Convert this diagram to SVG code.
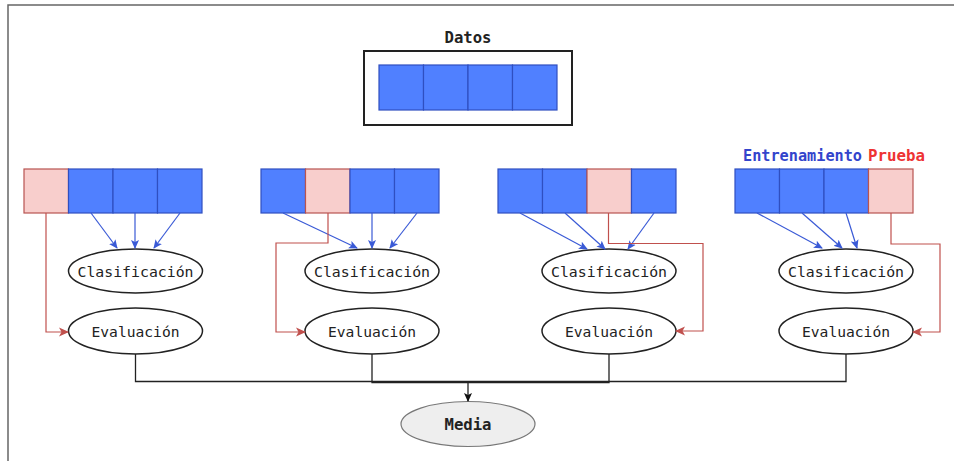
<svg xmlns="http://www.w3.org/2000/svg" width="955" height="461" viewBox="0 0 955 461">
<style>
.frame{fill:none;stroke:#666;stroke-width:1.5}
.cellB{fill:#5080ff;stroke:#2f4fc0;stroke-width:1.2}
.cellR{fill:#f8cecc;stroke:#b85450;stroke-width:1.2}
.node{fill:#fff;stroke:#222;stroke-width:1.5}
.media{fill:#eeeeee;stroke:#777;stroke-width:1.2}
.lbl{font-family:"DejaVu Sans Mono","Liberation Mono",monospace;font-size:14px;fill:#222;text-anchor:middle}
.bold{font-weight:bold;font-size:15px}
.eb{fill:none;stroke:#3a5ad6;stroke-width:1.2}
.er{fill:none;stroke:#c0504d;stroke-width:1.2}
.ek{fill:none;stroke:#222;stroke-width:1.3}
</style>
<defs>
<marker id="ab" markerWidth="9" markerHeight="9" refX="8" refY="4.5" orient="auto" markerUnits="userSpaceOnUse"><path d="M0,0.5 L9,4.5 L0,8.5 L2,4.5 Z" fill="#3a5ad6"/></marker>
<marker id="ar" markerWidth="10" markerHeight="10" refX="9" refY="5" orient="auto" markerUnits="userSpaceOnUse"><path d="M0,0.5 L10,5 L0,9.5 L2.5,5 Z" fill="#c0504d"/></marker>
<marker id="ak" markerWidth="9" markerHeight="9" refX="8" refY="4.5" orient="auto" markerUnits="userSpaceOnUse"><path d="M0,0.5 L9,4.5 L0,8.5 L2,4.5 Z" fill="#111"/></marker>
</defs>
<path class="frame" d="M8,461 L8,5 L954,5"/>

<g id="datos">
<text class="lbl bold" x="468" y="43" textLength="47" lengthAdjust="spacingAndGlyphs">Datos</text>
<rect x="364" y="51" width="208" height="74" fill="#fff" stroke="#222" stroke-width="2"/>
<rect class="cellB" x="379" y="65" width="44.5" height="45"/>
<rect class="cellB" x="423.5" y="65" width="44.5" height="45"/>
<rect class="cellB" x="468" y="65" width="44.5" height="45"/>
<rect class="cellB" x="512.5" y="65" width="44.5" height="45"/>
</g>

<g id="legend">
<text class="lbl bold" x="743" y="161" style="text-anchor:start;fill:#3344cc" textLength="119" lengthAdjust="spacingAndGlyphs">Entrenamiento</text>
<text class="lbl bold" x="868" y="161" style="text-anchor:start;fill:#ee3333" textLength="57" lengthAdjust="spacingAndGlyphs">Prueba</text>
</g>

<g id="fold1">
<rect class="cellR" x="24" y="169" width="44.5" height="44"/>
<rect class="cellB" x="68.5" y="169" width="44.5" height="44"/>
<rect class="cellB" x="113" y="169" width="44.5" height="44"/>
<rect class="cellB" x="157.5" y="169" width="44.5" height="44"/>
</g>
<g id="fold2">
<rect class="cellB" x="261" y="169" width="44.5" height="44"/>
<rect class="cellR" x="305.5" y="169" width="44.5" height="44"/>
<rect class="cellB" x="350" y="169" width="44.5" height="44"/>
<rect class="cellB" x="394.5" y="169" width="44.5" height="44"/>
</g>
<g id="fold3">
<rect class="cellB" x="498" y="169" width="44.5" height="44"/>
<rect class="cellB" x="542.5" y="169" width="44.5" height="44"/>
<rect class="cellR" x="587" y="169" width="44.5" height="44"/>
<rect class="cellB" x="631.5" y="169" width="44.5" height="44"/>
</g>
<g id="fold4">
<rect class="cellB" x="735" y="169" width="44.5" height="44"/>
<rect class="cellB" x="779.5" y="169" width="44.5" height="44"/>
<rect class="cellB" x="824" y="169" width="44.5" height="44"/>
<rect class="cellR" x="868.5" y="169" width="44.5" height="44"/>
</g>

<g id="clas1"><ellipse class="node" cx="135.5" cy="271" rx="67" ry="22"/><text class="lbl" x="135.5" y="276.5" textLength="116" lengthAdjust="spacingAndGlyphs">Clasificación</text></g>
<g id="clas2"><ellipse class="node" cx="372" cy="271" rx="67" ry="22"/><text class="lbl" x="372" y="276.5" textLength="116" lengthAdjust="spacingAndGlyphs">Clasificación</text></g>
<g id="clas3"><ellipse class="node" cx="609" cy="271" rx="67" ry="22"/><text class="lbl" x="609" y="276.5" textLength="116" lengthAdjust="spacingAndGlyphs">Clasificación</text></g>
<g id="clas4"><ellipse class="node" cx="846" cy="271" rx="67" ry="22"/><text class="lbl" x="846" y="276.5" textLength="116" lengthAdjust="spacingAndGlyphs">Clasificación</text></g>

<g id="eval1"><ellipse class="node" cx="135.5" cy="331" rx="67" ry="23"/><text class="lbl" x="135.5" y="336.5" textLength="88" lengthAdjust="spacingAndGlyphs">Evaluación</text></g>
<g id="eval2"><ellipse class="node" cx="372" cy="331" rx="67" ry="23"/><text class="lbl" x="372" y="336.5" textLength="88" lengthAdjust="spacingAndGlyphs">Evaluación</text></g>
<g id="eval3"><ellipse class="node" cx="609" cy="331" rx="67" ry="23"/><text class="lbl" x="609" y="336.5" textLength="88" lengthAdjust="spacingAndGlyphs">Evaluación</text></g>
<g id="eval4"><ellipse class="node" cx="846" cy="331" rx="67" ry="23"/><text class="lbl" x="846" y="336.5" textLength="88" lengthAdjust="spacingAndGlyphs">Evaluación</text></g>

<g id="media"><ellipse class="media" cx="468" cy="424" rx="67" ry="22.5"/><text class="lbl bold" x="468" y="429.5" textLength="47" lengthAdjust="spacingAndGlyphs">Media</text></g>

<g id="connectors">
<path class="eb" marker-end="url(#ab)" d="M91,213 L117,248"/>
<path class="eb" marker-end="url(#ab)" d="M135,213 L135,248"/>
<path class="eb" marker-end="url(#ab)" d="M180,213 L154,248"/>
<path class="er" marker-end="url(#ar)" d="M46,213 L46,332 L68,332"/>
<path class="eb" marker-end="url(#ab)" d="M283,213 L357,248"/>
<path class="eb" marker-end="url(#ab)" d="M372,213 L372,248"/>
<path class="eb" marker-end="url(#ab)" d="M417,213 L390,248"/>
<path class="er" marker-end="url(#ar)" d="M328,213 L328,243 L276,243 L276,332 L305,332"/>
<path class="eb" marker-end="url(#ab)" d="M520,213 L587,249"/>
<path class="eb" marker-end="url(#ab)" d="M565,213 L605,249"/>
<path class="eb" marker-end="url(#ab)" d="M654,213 L628,249"/>
<path class="er" marker-end="url(#ar)" d="M608.5,213 L608.5,243.5 L703,243.5 L703,331 L676,331"/>
<path class="eb" marker-end="url(#ab)" d="M757,213 L822,248"/>
<path class="eb" marker-end="url(#ab)" d="M802,213 L842,248"/>
<path class="eb" marker-end="url(#ab)" d="M846,213 L857,248"/>
<path class="er" marker-end="url(#ar)" d="M891,213 L891,244 L940,244 L940,332 L913,332"/>
<path class="ek" d="M135.5,354 L135.5,381.5 L468,381.5"/>
<path class="ek" d="M846,354 L846,381.5 L468,381.5"/>
<path class="ek" d="M372,354 L372,382.5 L468,382.5"/>
<path class="ek" d="M609,354 L609,382.5 L468,382.5"/>
<path class="ek" stroke-width="1.8" marker-end="url(#ak)" d="M468,382 L468,401"/>
</g>
</svg>
